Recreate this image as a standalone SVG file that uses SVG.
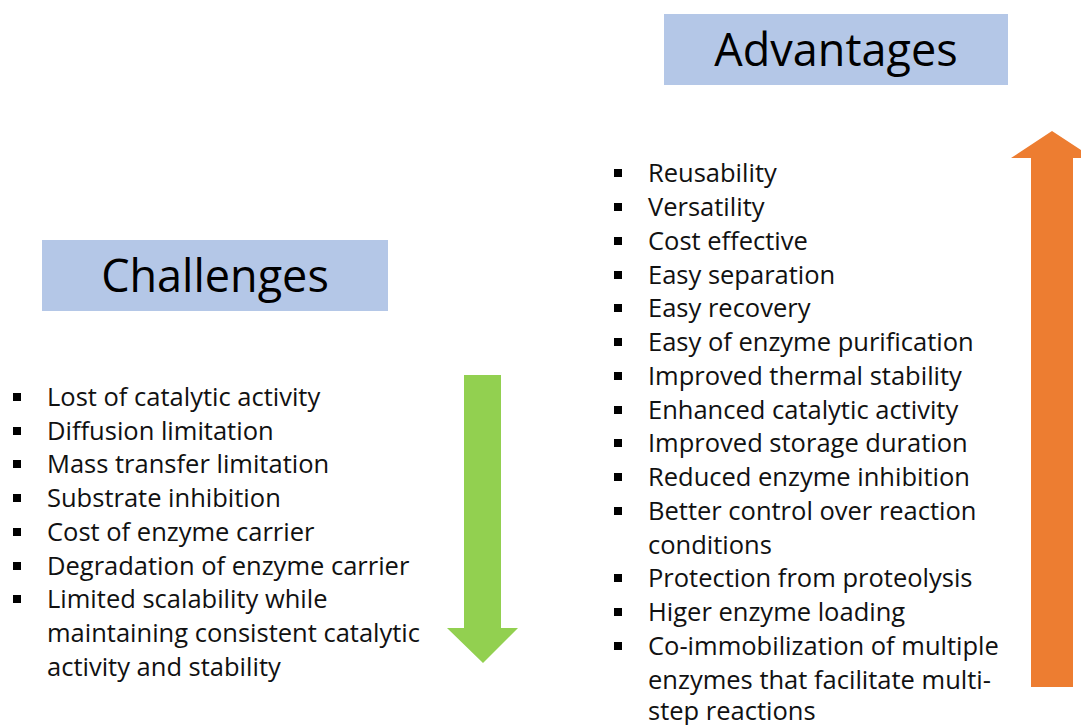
<svg xmlns="http://www.w3.org/2000/svg" width="1081" height="725" viewBox="0 0 1081 725">
<style>
.title{font-family:"Open Sans","Liberation Sans",Arial,sans-serif;font-size:45px;fill:#000;text-anchor:middle}
.item{font-family:"Open Sans","Liberation Sans",Arial,sans-serif;font-size:25.5px;fill:#111}
.box{fill:#b4c7e7}
.bul{fill:#000}
</style>
<rect width="1081" height="725" fill="#fff"/>
<g id="advantages-title">
<rect class="box" x="664" y="14" width="344" height="71"/>
<text class="title" x="836" y="66">Advantages</text>
</g>
<g id="challenges-title">
<rect class="box" x="42" y="240" width="346" height="71"/>
<text class="title" x="215" y="292">Challenges</text>
</g>
<g id="challenges-list">
<rect class="bul" x="13" y="393" width="8" height="8"/><text class="item" x="47" y="406">Lost of catalytic activity</text>
<rect class="bul" x="13" y="427" width="8" height="8"/><text class="item" x="47" y="440">Diffusion limitation</text>
<rect class="bul" x="13" y="460" width="8" height="8"/><text class="item" x="47" y="473">Mass transfer limitation</text>
<rect class="bul" x="13" y="494" width="8" height="8"/><text class="item" x="47" y="507">Substrate inhibition</text>
<rect class="bul" x="13" y="528" width="8" height="8"/><text class="item" x="47" y="541">Cost of enzyme carrier</text>
<rect class="bul" x="13" y="562" width="8" height="8"/><text class="item" x="47" y="575">Degradation of enzyme carrier</text>
<rect class="bul" x="13" y="595" width="8" height="8"/><text class="item" x="47" y="608">Limited scalability while</text>
<text class="item" x="47" y="642">maintaining consistent catalytic</text>
<text class="item" x="47" y="676">activity and stability</text>
</g>
<g id="advantages-list">
<rect class="bul" x="614" y="169" width="8" height="8"/><text class="item" x="648" y="182">Reusability</text>
<rect class="bul" x="614" y="203" width="8" height="8"/><text class="item" x="648" y="216">Versatility</text>
<rect class="bul" x="614" y="237" width="8" height="8"/><text class="item" x="648" y="250">Cost effective</text>
<rect class="bul" x="614" y="271" width="8" height="8"/><text class="item" x="648" y="284">Easy separation</text>
<rect class="bul" x="614" y="304" width="8" height="8"/><text class="item" x="648" y="317">Easy recovery</text>
<rect class="bul" x="614" y="338" width="8" height="8"/><text class="item" x="648" y="351">Easy of enzyme purification</text>
<rect class="bul" x="614" y="372" width="8" height="8"/><text class="item" x="648" y="385">Improved thermal stability</text>
<rect class="bul" x="614" y="406" width="8" height="8"/><text class="item" x="648" y="419">Enhanced catalytic activity</text>
<rect class="bul" x="614" y="439" width="8" height="8"/><text class="item" x="648" y="452">Improved storage duration</text>
<rect class="bul" x="614" y="473" width="8" height="8"/><text class="item" x="648" y="486">Reduced enzyme inhibition</text>
<rect class="bul" x="614" y="507" width="8" height="8"/><text class="item" x="648" y="520">Better control over reaction</text>
<text class="item" x="648" y="554">conditions</text>
<rect class="bul" x="614" y="574" width="8" height="8"/><text class="item" x="648" y="587">Protection from proteolysis</text>
<rect class="bul" x="614" y="608" width="8" height="8"/><text class="item" x="648" y="621">Higer enzyme loading</text>
<rect class="bul" x="614" y="642" width="8" height="8"/><text class="item" x="648" y="655">Co-immobilization of multiple</text>
<text class="item" x="648" y="689">enzymes that facilitate multi-</text>
<text class="item" x="648" y="720">step reactions</text>
</g>
<g id="connectors">
<polygon id="down-arrow" points="464,375 501,375 501,628 518,628 483,663 447,628 464,628" fill="#92d050"/>
<polygon id="up-arrow" points="1052,131 1093,158 1073,158 1073,687 1031,687 1031,158 1011,158" fill="#ed7d31"/>
</g>
</svg>
